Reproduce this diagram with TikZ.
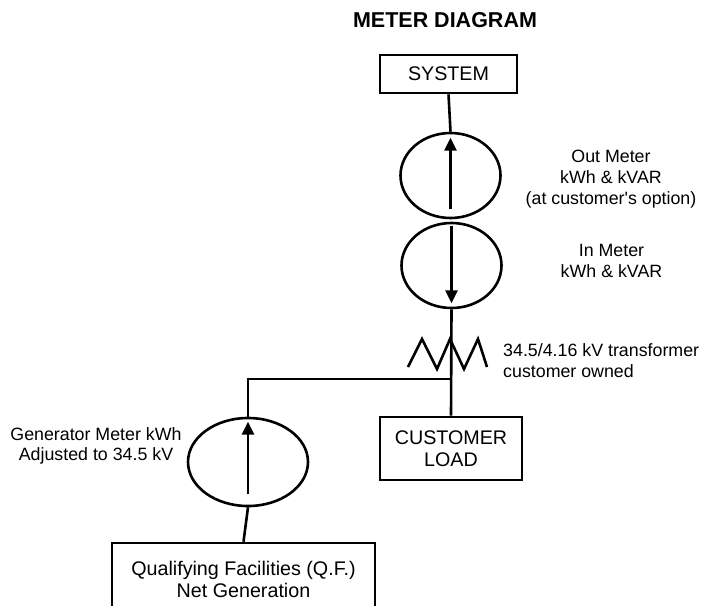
\documentclass[tikz,border=0pt]{standalone}
\usepackage{fontspec}
\setmainfont{Liberation Sans}
\usetikzlibrary{shapes.geometric,arrows.meta,calc}
\begin{document}
\begin{tikzpicture}[x=1pt,y=-1pt,
  wire/.style={line width=2.6pt},
  boxnode/.style={draw,line width=2.6pt,rectangle,inner sep=0pt,font=\fontsize{19.7}{22}\selectfont,align=center},
  meter/.style={draw,line width=2.6pt,ellipse,inner sep=0pt},
  flow/.style={line width=2.6pt,-{Triangle[length=13pt,width=12pt]}},
  lbl/.style={inner sep=0pt,font=\fontsize{17.8}{21}\selectfont}]
\clip (0,0) rectangle (703,605);
\fill[white] (0,0) rectangle (703,605);
\node[inner sep=0pt,font=\fontsize{21.5}{24}\selectfont\bfseries] (title) at (445,19.7) {METER DIAGRAM};
\node[boxnode,minimum width=137pt,minimum height=38pt] (sys) at (448.5,74) {SYSTEM};
\node[meter,minimum width=100pt,minimum height=85pt] (m1) at (450.5,175.5) {};
\node[meter,minimum width=100pt,minimum height=85pt] (m2) at (451.5,265.5) {};
\node[boxnode,minimum width=142pt,minimum height=63pt] (load) at (451,448.5) {CUSTOMER\\LOAD};
\node[meter,minimum width=120pt,minimum height=88pt] (gen) at (248,462) {};
\node[boxnode,minimum width=263pt,minimum height=72pt] (qf) at (243.5,579) {Qualifying Facilities (Q.F.)\\Net Generation};
% labels
\node[lbl,align=center] (outl) at (611,179.3) {Out Meter\\kWh \& kVAR\\(at customer\textquotesingle s option)};
\node[lbl,align=center] (inl) at (611.5,260.5) {In Meter\\kWh \& kVAR};
\node[lbl,align=left,anchor=west] (trl) at (503,361) {34.5/4.16 kV transformer\\customer owned};
\node[lbl,align=center,font=\fontsize{17.8}{19.5}\selectfont] (genl) at (96,446) {Generator Meter kWh\\Adjusted to 34.5 kV};
% connectors
\coordinate (j) at (450,379);
\draw[wire] (sys.south) -- (m1.north);
\draw[wire] (m2.south) -- (load.north);
\draw[wire] (j) -| (gen.north);
\draw[wire] (gen.south) -- (qf.north);
% meter arrows
\draw[flow] ($(m1.south)+(0,-10)$) -- ($(m1.north)+(0,6)$);
\draw[flow] ($(m2.north)+(0,4)$) -- ($(m2.south)+(0,-6)$);
\draw[flow] ($(gen.south)+(0,-13)$) -- ($(gen.north)+(0,5)$);
% transformer symbol
\draw[wire,line join=miter] (408,367) -- (422,339) -- (437,369) -- (450,339) -- (464,369) -- (478,339) -- (487,367);
\end{tikzpicture}
\end{document}
